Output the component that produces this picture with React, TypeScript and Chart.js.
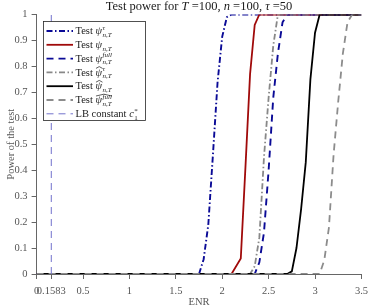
import React, { useEffect, useRef } from 'react';
import { Chart, registerables } from 'chart.js';

Chart.register(...registerables);

const SERIF = '"Liberation Serif", "DejaVu Serif", serif';

// ---- data ----
const xTicks = [0, 0.1583, 0.5, 1, 1.5, 2, 2.5, 3, 3.5];
const yTicks = [0, 0.1, 0.2, 0.3, 0.4, 0.5, 0.6, 0.7, 0.8, 0.9, 1];

const psiTauX = [0, 1.75, 1.8, 1.85, 1.9, 1.95, 2.0, 2.05, 2.1, 3.5];
const psiTauY = [0, 0, 0.057, 0.19, 0.46, 0.74, 0.915, 0.99, 1, 1];
const psiX = [0, 2.1, 2.2, 2.25, 2.3, 2.35, 2.4, 3.5];
const psiY = [0, 0, 0.06, 0.41, 0.77, 0.96, 1, 1];
const psiFullX = [0, 2.35, 2.4, 2.45, 2.5, 2.55, 2.6, 2.65, 2.7, 3.5];
const psiFullY = [0, 0, 0.045, 0.16, 0.4, 0.68, 0.85, 0.97, 1, 1];
const psiHatTauX = [0, 2.3, 2.35, 2.4, 2.45, 2.5, 2.55, 2.6, 3.5];
const psiHatTauY = [0, 0, 0.03, 0.14, 0.45, 0.68, 0.88, 1, 1];
const psiHatX = [0, 2.7, 2.75, 2.8, 2.85, 2.9, 2.95, 3.0, 3.05, 3.5];
const psiHatY = [0, 0, 0.01, 0.1, 0.25, 0.43, 0.75, 0.93, 1, 1];
const psiHatFullX = [0, 3.05, 3.1, 3.15, 3.2, 3.25, 3.3, 3.35, 3.4, 3.5];
const psiHatFullY = [0, 0, 0.054, 0.18, 0.46, 0.665, 0.85, 0.97, 1, 1];
const lbX = [0.1583, 0.1583];
const lbY = [0, 1];

const titleParts = [
  { t: 'Test power for ', i: false },
  { t: 'T', i: true },
  { t: ' =100, ', i: false },
  { t: 'n', i: true },
  { t: ' =100, ', i: false },
  { t: 'τ', i: true },
  { t: ' =50', i: false },
];
const xTitle = 'ENR';
const yTitle = 'Power of the test';

type Spec = {
  label: string; xs: number[]; ys: number[]; color: string; dash: number[]; width: number;
  prefix: string; base: string; hat: boolean; sup: string; sub: string; supItalic: boolean; subItalic: boolean;
};

const series: Spec[] = [
  { label: 'Test ψ^τ_{n,T}', xs: psiTauX, ys: psiTauY, color: '#0a0a96', dash: [6, 2.5, 1.5, 2.5], width: 1.9,
    prefix: 'Test ', base: 'ψ', hat: false, sup: 'τ', sub: 'n,T', supItalic: true, subItalic: true },
  { label: 'Test ψ_{n,T}', xs: psiX, ys: psiY, color: '#a00a0a', dash: [], width: 1.8,
    prefix: 'Test ', base: 'ψ', hat: false, sup: '', sub: 'n,T', supItalic: true, subItalic: true },
  { label: 'Test ψ^full_{n,T}', xs: psiFullX, ys: psiFullY, color: '#0a0a96', dash: [7, 5], width: 1.9,
    prefix: 'Test ', base: 'ψ', hat: false, sup: 'full', sub: 'n,T', supItalic: true, subItalic: true },
  { label: 'Test ψ̂^τ_{n,T}', xs: psiHatTauX, ys: psiHatTauY, color: '#888888', dash: [6, 2.5, 1.5, 2.5], width: 1.8,
    prefix: 'Test ', base: 'ψ', hat: true, sup: 'τ', sub: 'n,T', supItalic: true, subItalic: true },
  { label: 'Test ψ̂_{n,T}', xs: psiHatX, ys: psiHatY, color: '#000000', dash: [], width: 1.8,
    prefix: 'Test ', base: 'ψ', hat: true, sup: '', sub: 'n,T', supItalic: true, subItalic: true },
  { label: 'Test ψ̂^full_{n,T}', xs: psiHatFullX, ys: psiHatFullY, color: '#8c8c8c', dash: [7, 5], width: 1.8,
    prefix: 'Test ', base: 'ψ', hat: true, sup: 'full', sub: 'n,T', supItalic: true, subItalic: true },
  { label: 'LB constant c*_1', xs: lbX, ys: lbY, color: '#7272cc', dash: [7, 5], width: 1,
    prefix: 'LB constant ', base: 'c', hat: false, sup: '*', sub: '1', supItalic: false, subItalic: false },
];

const FS = 10.5;
const SFS = 7;

function drawLabel(ctx: CanvasRenderingContext2D, x: number, y: number, s: Spec) {
  ctx.fillStyle = '#1a1a1a';
  ctx.textBaseline = 'alphabetic';
  ctx.textAlign = 'left';
  ctx.font = `${FS}px ${SERIF}`;
  ctx.fillText(s.prefix, x, y);
  x += ctx.measureText(s.prefix).width;
  ctx.font = `italic ${FS}px ${SERIF}`;
  ctx.fillText(s.base, x, y);
  const bw = ctx.measureText(s.base).width;
  let hatW = bw;
  if (s.sup) {
    ctx.font = `${s.supItalic ? 'italic ' : ''}${SFS}px ${SERIF}`;
    const w1 = ctx.measureText(s.sup).width;
    if (s.sup === 'full') hatW = bw + w1;
  }
  if (s.hat) {
    ctx.save();
    ctx.strokeStyle = '#1a1a1a';
    ctx.lineWidth = 0.7;
    ctx.beginPath();
    const cx = x + hatW / 2 + 0.5;
    const hw = Math.max(2.2, hatW / 2);
    ctx.moveTo(cx - hw, y - 7.2);
    ctx.lineTo(cx, y - 9);
    ctx.lineTo(cx + hw, y - 7.2);
    ctx.stroke();
    ctx.restore();
  }
  x += bw + 0.5;
  if (s.sup) {
    ctx.font = `${s.supItalic ? 'italic ' : ''}${SFS}px ${SERIF}`;
    ctx.fillText(s.sup, x, y - 4.5);
  }
  if (s.sub) {
    ctx.font = `${s.subItalic ? 'italic ' : ''}${SFS}px ${SERIF}`;
    ctx.fillText(s.sub, x, y + 2.5);
  }
}

const decorPlugin = {
  id: 'decor',
  afterDraw(chart: any) {
    const ctx: CanvasRenderingContext2D = chart.ctx;
    const a = chart.chartArea;
    ctx.save();
    // title
    ctx.textBaseline = 'alphabetic';
    ctx.textAlign = 'left';
    const TFS = 12.5;
    let tw = 0;
    for (const p of titleParts) {
      ctx.font = `${p.i ? 'italic ' : ''}${TFS}px ${SERIF}`;
      tw += ctx.measureText(p.t).width;
    }
    let tx = (a.left + a.right) / 2 - tw / 2;
    ctx.fillStyle = '#1a1a1a';
    for (const p of titleParts) {
      ctx.font = `${p.i ? 'italic ' : ''}${TFS}px ${SERIF}`;
      ctx.fillText(p.t, tx, 9.5);
      tx += ctx.measureText(p.t).width;
    }
    // axis titles
    ctx.fillStyle = '#555555';
    ctx.font = `10.5px ${SERIF}`;
    ctx.textAlign = 'center';
    ctx.textBaseline = 'middle';
    ctx.fillText(xTitle, (a.left + a.right) / 2, 302);
    ctx.save();
    ctx.translate(11, (a.top + a.bottom) / 2);
    ctx.rotate(-Math.PI / 2);
    ctx.fillText(yTitle, 0, 0);
    ctx.restore();

    // legend
    const bx = 43.5, by = 21.5, bwid = 102, bh = 99;
    ctx.fillStyle = '#ffffff';
    ctx.fillRect(bx, by, bwid, bh);
    series.forEach((s, i) => {
      const ry = 31 + 13.8 * i;
      ctx.save();
      ctx.strokeStyle = s.color;
      ctx.lineWidth = s.width;
      ctx.setLineDash(s.dash);
      ctx.beginPath();
      ctx.moveTo(46.5, ry);
      ctx.lineTo(73, ry);
      ctx.stroke();
      ctx.restore();
      drawLabel(ctx, 75.5, ry + 3.2, s);
    });
    ctx.strokeStyle = '#262626';
    ctx.lineWidth = 0.8;
    ctx.setLineDash([]);
    ctx.strokeRect(bx, by, bwid, bh);
    ctx.restore();
  },
};

export default function App() {
  const ref = useRef<HTMLCanvasElement | null>(null);
  useEffect(() => {
    document.body.style.margin = '0';
    const canvas = ref.current;
    if (!canvas) return;
    const chart = new Chart(canvas, {
      type: 'line',
      data: {
        datasets: series.map((s, i) => ({
          label: s.label,
          data: s.xs.map((x, k) => ({ x, y: s.ys[k] })),
          borderColor: s.color,
          backgroundColor: s.color,
          borderWidth: s.width,
          borderDash: s.dash,
          pointRadius: 0,
          tension: 0,
          fill: false,
          order: series.length - i,
        })),
      },
      options: {
        animation: false,
        responsive: true,
        maintainAspectRatio: false,
        layout: { padding: { top: 14.5, right: 6, left: 0, bottom: 0 } },
        plugins: { legend: { display: false }, title: { display: false }, tooltip: { enabled: false } },
        scales: {
          x: {
            type: 'linear',
            min: 0,
            max: 3.5,
            afterBuildTicks: (scale: any) => { scale.ticks = xTicks.map((v) => ({ value: v })); },
            afterFit: (scale: any) => { scale.height = 33; },
            ticks: {
              autoSkip: false,
              maxRotation: 0,
              padding: 6,
              color: '#555555',
              font: { family: SERIF, size: 10.5 },
              callback: (v: any) => String(v),
            },
            grid: { display: true, drawOnChartArea: false, drawTicks: true, tickLength: 5, color: '#666666' },
            border: { display: true, color: '#666666', width: 1 },
          },
          y: {
            type: 'linear',
            min: 0,
            max: 1,
            afterBuildTicks: (scale: any) => { scale.ticks = yTicks.map((v) => ({ value: v })); },
            afterFit: (scale: any) => { scale.width = 36.6; },
            ticks: {
              autoSkip: false,
              padding: 4,
              color: '#555555',
              font: { family: SERIF, size: 10.5 },
              callback: (v: any) => String(v),
            },
            grid: { display: true, drawOnChartArea: false, drawTicks: true, tickLength: 5, color: '#666666' },
            border: { display: true, color: '#666666', width: 1 },
          },
        },
      },
      plugins: [decorPlugin],
    } as any);
    return () => chart.destroy();
  }, []);
  return (
    <div style={{ width: 374, height: 307, position: 'relative' }}>
      <canvas ref={ref} />
    </div>
  );
}
